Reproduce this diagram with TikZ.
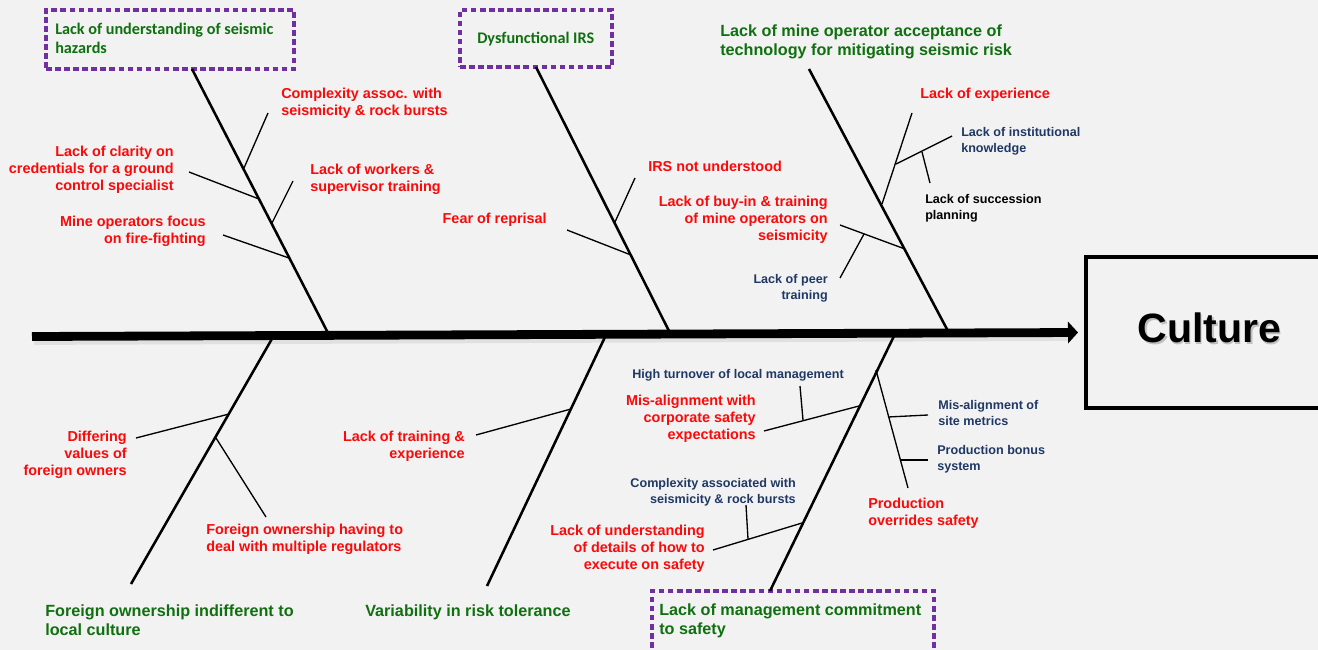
\documentclass[tikz,border=0pt]{standalone}
\usepackage{fontspec}
\setmainfont{Liberation Sans}
\newfontfamily\calfont{Carlito}
\usetikzlibrary{arrows.meta,fit,calc}
\definecolor{bgc}{RGB}{242,242,242}
\definecolor{myred}{RGB}{250,10,10}
\definecolor{mynavy}{RGB}{31,56,100}
\definecolor{mygreen}{RGB}{16,112,16}
\definecolor{mypurple}{RGB}{112,48,160}
\tikzset{
  redtxt/.style={text=myred, font=\fontsize{10.8}{12.75}\selectfont\bfseries, inner sep=0pt},
  bluetxt/.style={text=mynavy, font=\fontsize{9.45}{11.6}\selectfont\bfseries, inner sep=0pt},
  blktxt/.style={bluetxt, text=black},
  cattxt/.style={text=mygreen, font=\fontsize{12.15}{14.25}\selectfont\bfseries, inner sep=0pt, anchor=north west, align=left},
  calcat/.style={cattxt, font=\calfont\fontsize{12.15}{14.25}\selectfont\bfseries},
  rt/.style={anchor=north east, align=right},
  lt/.style={anchor=north west, align=left},
  bone/.style={line width=1.9pt, black},
  sub/.style={line width=1pt, black},
  dashbox/.style={draw=mypurple, line width=2.6pt, dash pattern=on 4.2pt off 2.6pt, inner sep=0pt},
  spine/.style={line width=6.6pt, black, -{Triangle[length=7.5pt,width=16pt]}},
}
\begin{document}
\begin{tikzpicture}[x=0.75pt,y=-0.75pt]
\fill[bgc] (0,0) rectangle (1318,650);
\useasboundingbox (0,0) rectangle (1318,650);

% ---------- effect box ----------
\node[draw, line width=3pt, fit={(1086,257) (1345,408)}, inner sep=0pt] (effect) {};
\node[text=black!25, font=\fontsize{30.75}{36}\selectfont\bfseries, anchor=base, inner sep=0pt] (cultsh) at (1211,344) {Culture};
\node[text=black, font=\fontsize{30.75}{36}\selectfont\bfseries, anchor=base, inner sep=0pt] (culture) at (1209.5,342) {Culture};

% ---------- spine ----------
\coordinate (spineL) at (32,336.5);
\coordinate (spineR) at (1078,332.5);
\draw[line width=6.6pt, black!12] ($(spineL)+(2,4)$) -- ($(spineR)+(-10,4)$);
\draw[spine] (spineL) -- (spineR);

% ---------- category boxes / labels ----------
\node[dashbox, fit={(46,10) (294,69)}] (box1) {};
\node[calcat] (cat1) at (55,23) {Lack of understanding of seismic\\hazards};
\node[dashbox, fit={(460,10) (612,67)}] (box2) {};
\node[calcat] (cat2) at (477,32) {Dysfunctional IRS};
\node[cattxt] (cat3) at (720,24) {Lack of mine operator acceptance of\\technology for mitigating seismic risk};
\node[cattxt] (cat4) at (45,604) {Foreign ownership indifferent to\\local culture};
\node[cattxt] (cat5) at (365,604) {Variability in risk tolerance};
\node[dashbox, fit={(652,591) (934,665)}] (box6) {};
\node[cattxt] (cat6) at (659,603) {Lack of management commitment\\to safety};

% ---------- main bones ----------
\coordinate (b1t) at (192,69);  \coordinate (b1b) at (328,333);
\coordinate (b2t) at (536,67);  \coordinate (b2b) at (670,333);
\coordinate (b3t) at (809,69);  \coordinate (b3b) at (949,333);
\coordinate (b4t) at (273,337); \coordinate (b4b) at (131,584);
\coordinate (b5t) at (605,337); \coordinate (b5b) at (487,586);
\coordinate (b6t) at (894,336); \coordinate (b6b) at (770,591);
\foreach \i in {1,...,6} {\draw[bone] (b\i t) -- (b\i b);}

% ---------- bone 1 ----------
\coordinate (s1a) at (268,113); \coordinate (j1a) at (244,168);
\coordinate (s1b) at (189,172); \coordinate (j1b) at (259,199);
\coordinate (s1c) at (293,181); \coordinate (j1c) at (272,223);
\coordinate (s1d) at (223,235); \coordinate (j1d) at (289,258);
\draw[sub] (s1a) -- (j1a);
\draw[sub] (s1b) -- (j1b);
\draw[sub] (s1c) -- (j1c);
\draw[sub] (s1d) -- (j1d);
\node[redtxt, lt] (t1a) at (281,87.5) {Complexity assoc. with\\seismicity \& rock bursts};
\node[redtxt, rt] (t1b) at (174,145.5) {Lack of clarity on\\credentials for a ground\\control specialist};
\node[redtxt, lt] (t1c) at (310,163.5) {Lack of workers \&\\supervisor training};
\node[redtxt, rt] (t1d) at (206,215.5) {Mine operators focus\\on fire-fighting};

% ---------- bone 2 ----------
\coordinate (s2a) at (635,178); \coordinate (j2a) at (615,222);
\coordinate (s2b) at (567,230); \coordinate (j2b) at (631,255);
\draw[sub] (s2a) -- (j2a);
\draw[sub] (s2b) -- (j2b);
\node[redtxt, lt] (t2a) at (648,160.5) {IRS not understood};
\node[redtxt, rt] (t2b) at (547,212.5) {Fear of reprisal};

% ---------- bone 3 ----------
\coordinate (s3a) at (912,113); \coordinate (j3a) at (882,204);
\coordinate (k3a) at (896,164); \coordinate (s3i) at (952,136);
\coordinate (k3i) at (922,152); \coordinate (s3s) at (930,183);
\coordinate (s3b) at (840,225); \coordinate (j3b) at (905,249);
\coordinate (k3b) at (864,234); \coordinate (s3p) at (840,278);
\draw[sub] (s3a) -- (j3a);
\draw[sub] (k3a) -- (s3i);
\draw[sub] (k3i) -- (s3s);
\draw[sub] (s3b) -- (j3b);
\draw[sub] (k3b) -- (s3p);
\node[redtxt, lt] (t3a) at (920,87.5) {Lack of experience};
\node[bluetxt, lt] (t3i) at (961,127.5) {Lack of institutional\\knowledge};
\node[blktxt, lt] (t3s) at (925,194.5) {Lack of succession\\planning};
\node[redtxt, rt] (t3b) at (828,195.5) {Lack of buy-in \& training\\of mine operators on\\seismicity};
\node[bluetxt, rt] (t3p) at (828,274.5) {Lack of peer\\training};

% ---------- bone 4 ----------
\coordinate (s4a) at (136,438); \coordinate (j4a) at (229,414);
\coordinate (j4b) at (216,438); \coordinate (s4b) at (266,517);
\draw[sub] (s4a) -- (j4a);
\draw[sub] (j4b) -- (s4b);
\node[redtxt, rt] (t4a) at (127,430.5) {Differing\\values of\\foreign owners};
\node[redtxt, lt] (t4b) at (206,523.5) {Foreign ownership having to\\deal with multiple regulators};

% ---------- bone 5 ----------
\coordinate (s5a) at (476,435); \coordinate (j5a) at (571,409);
\draw[sub] (s5a) -- (j5a);
\node[redtxt, rt] (t5a) at (465,430.5) {Lack of training \&\\experience};

% ---------- bone 6 ----------
\coordinate (s6a) at (764,431); \coordinate (j6a) at (859,406);
\coordinate (k6a) at (803,420); \coordinate (s6t) at (800,386);
\coordinate (s6b) at (713,550); \coordinate (j6b) at (802,523);
\coordinate (k6b) at (748,539); \coordinate (s6c) at (746,505);
\coordinate (j6p) at (876,370); \coordinate (s6p) at (908,488);
\coordinate (k6m) at (888,417); \coordinate (s6m) at (928,415);
\coordinate (k6n) at (901,460); \coordinate (s6n) at (928,460);
\draw[sub] (s6a) -- (j6a);
\draw[sub] (k6a) -- (s6t);
\draw[sub] (s6b) -- (j6b);
\draw[sub] (k6b) -- (s6c);
\draw[sub] (j6p) -- (s6p);
\draw[sub] (k6m) -- (s6m);
\draw[sub] (k6n) -- (s6n);
\node[bluetxt, lt] (t6t) at (632,369.5) {High turnover of local management};
\node[redtxt, rt] (t6a) at (756,394.5) {Mis-alignment with\\corporate safety\\expectations};
\node[bluetxt, rt] (t6c) at (796,478.5) {Complexity associated with\\seismicity \& rock bursts};
\node[redtxt, rt] (t6b) at (705,524.5) {Lack of understanding\\of details of how to\\execute on safety};
\node[bluetxt, lt] (t6m) at (938,400.5) {Mis-alignment of\\site metrics};
\node[bluetxt, lt] (t6n) at (937,445.5) {Production bonus\\system};
\node[redtxt, lt] (t6p) at (868,497.5) {Production\\overrides safety};
\end{tikzpicture}
\end{document}
